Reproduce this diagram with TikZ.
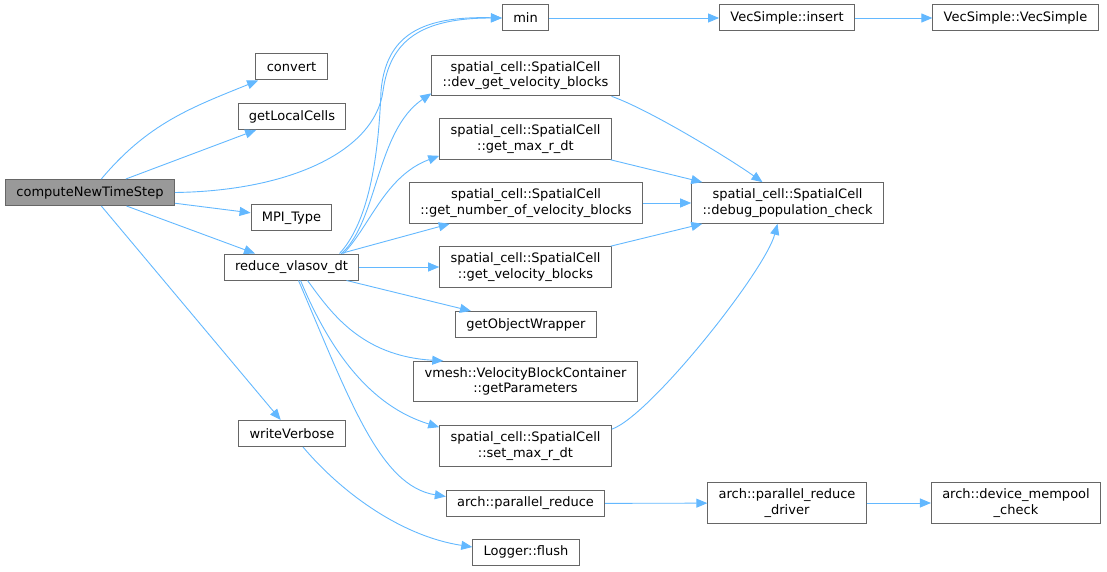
\documentclass[tikz,border=0pt]{standalone}
\usepackage{fontspec}
\setmainfont{DejaVu Sans}
\usetikzlibrary{positioning,arrows.meta,calc}
\definecolor{edgeblue}{HTML}{63B8FF}
\definecolor{boxgray}{HTML}{666666}
\definecolor{rootgray}{HTML}{999999}

\begin{document}
\begin{tikzpicture}[x=1pt,y=1pt,>={Triangle[length=11pt,width=9pt]},
   fn/.style={draw=boxgray,line width=1pt,fill=white,inner xsep=10.8pt,inner ysep=6pt,
              minimum height=26pt,align=center,font=\fontsize{13}{15.7}\selectfont},
   root/.style={fn,fill=rootgray},
   call/.style={->,color=edgeblue,line width=0.9pt}]
   \useasboundingbox (0,0) rectangle (1107,571);
   % caller and first level
   \node[root] (cnt)  at (90,378.5)  {computeNewTimeStep};
   \node[fn]   (conv) at (291.5,504) {convert};
   \node[fn]   (glc)  at (292,454.5) {getLocalCells};
   \node[fn]   (mpit) at (291.5,353) {MPI\_Type};
   \node[fn]   (rvd)  at (291.5,304) {reduce\_vlasov\_dt};
   \node[fn]   (wv)   at (292,137.5) {writeVerbose};
   % second level
   \node[fn] (min)   at (525.5,553)   {min};
   \node[fn] (dgvb)  at (525.5,495.5) {spatial\_cell::SpatialCell\\::dev\_get\_velocity\_blocks};
   \node[fn] (gmrd)  at (525.5,432)   {spatial\_cell::SpatialCell\\::get\_max\_r\_dt};
   \node[fn] (gnvb)  at (526,368)     {spatial\_cell::SpatialCell\\::get\_number\_of\_velocity\_blocks};
   \node[fn] (gvb)   at (525.5,304)   {spatial\_cell::SpatialCell\\::get\_velocity\_blocks};
   \node[fn] (gow)   at (526,246.5)   {getObjectWrapper};
   \node[fn] (gpar)  at (525.5,189.5) {vmesh::VelocityBlockContainer\\::getParameters};
   \node[fn] (smrd)  at (525.5,125)   {spatial\_cell::SpatialCell\\::set\_max\_r\_dt};
   \node[fn] (pred)  at (525.5,67.5)  {arch::parallel\_reduce};
   \node[fn] (flush) at (526,19)      {Logger::flush};
   % third and fourth level
   \node[fn] (vins) at (787,553)    {VecSimple::insert};
   \node[fn] (dpc)  at (787.5,368)  {spatial\_cell::SpatialCell\\::debug\_population\_check};
   \node[fn] (prd)  at (787,68)     {arch::parallel\_reduce\\\_driver};
   \node[fn] (vvs)  at (1015.5,553) {VecSimple::VecSimple};
   \node[fn] (dmc)  at (1016,68)    {arch::device\_mempool\\\_check};

   \path[call]
      (cnt) edge (glc)
            edge (mpit)
            edge (rvd)
            edge (wv)
      (rvd) edge (gnvb)
            edge (gvb)
            edge (gow)
      (min) edge (vins)
      (vins) edge (vvs)
      (gmrd) edge (dpc)
      (gnvb) edge (dpc)
      (gvb) edge (dpc)
      (pred) edge (prd)
      (prd) edge (dmc);

   \draw[call] (cnt) to[out=50,in=202] (conv);
   \draw[call] (cnt.east) .. controls (290,380) and (375,420) .. (383,480)
                          .. controls (390,530) and (420,553) .. (min.west);
   \draw[call] ([xshift=48pt]rvd.north) .. controls (365,345) and (378,400) .. (381,480)
                                        .. controls (386,535) and (420,555) .. (min.west);
   \draw[call] ([xshift=50pt]rvd.north) .. controls (378,350) and (376,440) .. ([yshift=3pt]dgvb.south west);
   \draw[call] ([xshift=52pt]rvd.north) .. controls (370,345) and (385,395) .. ([yshift=4pt]gmrd.south west);
   \draw[call] ([xshift=16pt]rvd.south) .. controls (330,260) and (360,215) .. ([xshift=30pt]gpar.north west);
   \draw[call] ([xshift=9pt]rvd.south) .. controls (330,220) and (370,165) .. ([yshift=-2pt]smrd.north west);
   \draw[call] ([xshift=7pt]rvd.south) .. controls (350,170) and (380,85) .. ([yshift=7pt]pred.west);
   \draw[call] ([xshift=11pt]wv.south) .. controls (340,80) and (400,35) .. ([yshift=5pt]flush.west);
   \draw[call] ([xshift=-8pt]dgvb.south east) .. controls (650,461) and (730,412) .. ([xshift=-25pt]dpc.north);
   \draw[call] ([yshift=-4pt]smrd.north east) .. controls (650,155) and (765,300) .. ([xshift=-10pt]dpc.south);
\end{tikzpicture}
\end{document}
